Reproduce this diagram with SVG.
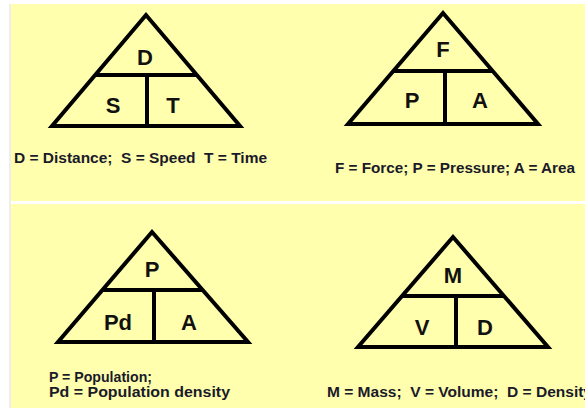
<svg xmlns="http://www.w3.org/2000/svg" width="585" height="408" viewBox="0 0 585 408">
<style>
.tri{fill:none;stroke:#000;stroke-width:4;stroke-linejoin:miter;stroke-miterlimit:10}
.div{fill:none;stroke:#000;stroke-width:4}
.lbl{font-family:"Liberation Sans",Arial,sans-serif;font-weight:bold;font-size:22px;fill:#111;text-anchor:middle}
.cap{font-family:"Liberation Sans",Arial,sans-serif;font-weight:bold;font-size:14.5px;fill:#1a1a2a}
</style>
<rect x="0" y="0" width="585" height="408" fill="#ffffff"/>
<rect x="9" y="4" width="2" height="404" fill="#eeeeee"/>
<rect x="11" y="4" width="574" height="197" fill="#ffffad"/>
<rect x="11" y="204" width="574" height="204" fill="#ffffad"/>

<g id="distance-triangle">
<path class="tri" d="M146,15 L52,126 L240,126 Z"/>
<path class="div" d="M95,75 H197 M147,75 V126"/>
<text class="lbl" x="145" y="65">D</text>
<text class="lbl" x="113" y="113">S</text>
<text class="lbl" x="173" y="113">T</text>
<text class="cap" x="14" y="163" textLength="253" lengthAdjust="spacingAndGlyphs" xml:space="preserve">D = Distance;  S = Speed  T = Time</text>
</g>

<g id="force-triangle">
<path class="tri" d="M443,13 L348,124 L538,124 Z"/>
<path class="div" d="M393,71 H493 M445,71 V124"/>
<text class="lbl" x="443" y="57">F</text>
<text class="lbl" x="412" y="108">P</text>
<text class="lbl" x="480" y="108">A</text>
<text class="cap" x="335" y="173" textLength="240" lengthAdjust="spacingAndGlyphs">F = Force; P = Pressure; A = Area</text>
</g>

<g id="population-triangle">
<path class="tri" d="M152,232 L58,342 L248,342 Z"/>
<path class="div" d="M102,290 H202 M154,290 V342"/>
<text class="lbl" x="152" y="277">P</text>
<text class="lbl" x="118" y="330">Pd</text>
<text class="lbl" x="189" y="330">A</text>
<text class="cap" x="49" y="382" textLength="103" lengthAdjust="spacingAndGlyphs">P = Population;</text>
<text class="cap" x="49" y="397" textLength="181" lengthAdjust="spacingAndGlyphs">Pd = Population density</text>
</g>

<g id="mass-triangle">
<path class="tri" d="M453,237 L358,347 L548,347 Z"/>
<path class="div" d="M402,296 H504 M456,296 V347"/>
<text class="lbl" x="453" y="283">M</text>
<text class="lbl" x="422" y="335">V</text>
<text class="lbl" x="485" y="335">D</text>
<text class="cap" x="327" y="397" textLength="265" lengthAdjust="spacingAndGlyphs" xml:space="preserve">M = Mass;  V = Volume;  D = Density</text>
</g>

<g id="connectors"></g>
</svg>
